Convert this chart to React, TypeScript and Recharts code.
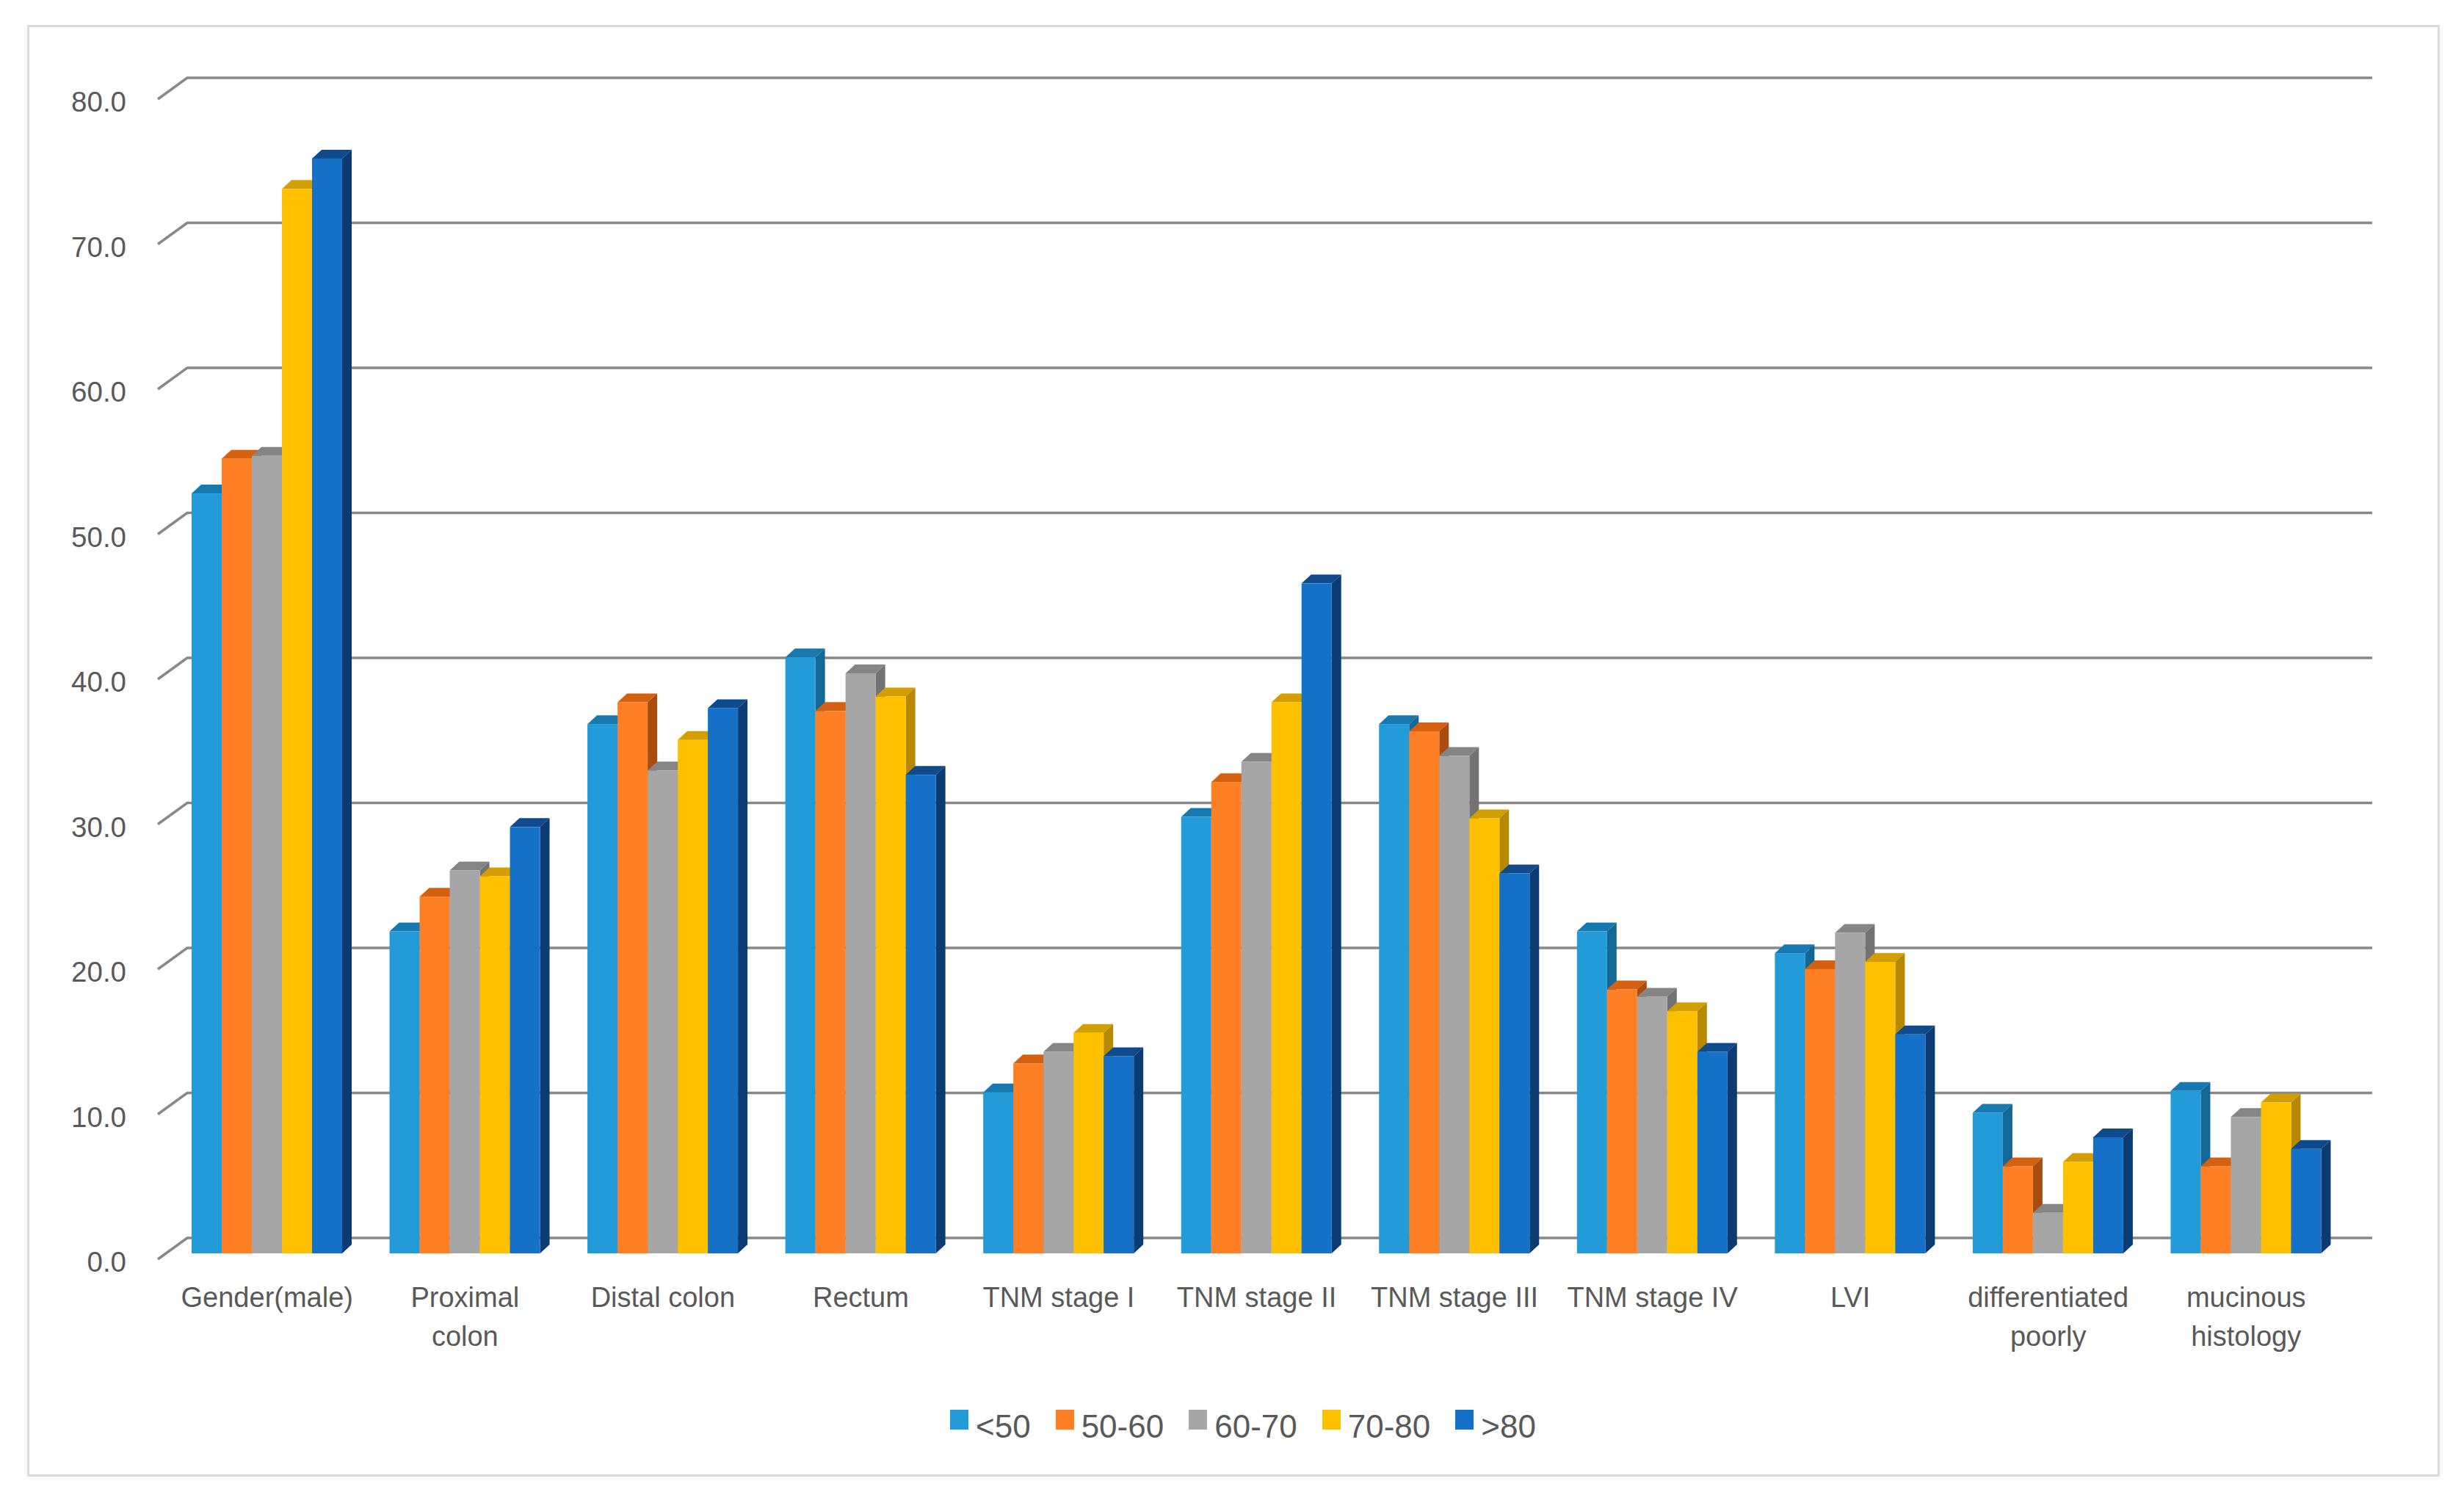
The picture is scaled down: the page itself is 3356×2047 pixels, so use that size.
import { BarChart, Bar, XAxis, YAxis, CartesianGrid, Legend } from "recharts";

const categories = [
  "Gender(male)",
  "Proximal\ncolon",
  "Distal colon",
  "Rectum",
  "TNM stage I",
  "TNM stage II",
  "TNM stage III",
  "TNM stage IV",
  "LVI",
  "differentiated\npoorly",
  "mucinous\nhistology",
];

const under50 = [52.4, 22.2, 36.5, 41.1, 11.1, 30.1, 36.5, 22.2, 20.7, 9.7, 11.2];
const age50to60 = [54.8, 24.6, 38.0, 37.4, 13.1, 32.5, 36.0, 18.2, 19.6, 6.0, 6.0];
const age60to70 = [55.0, 26.4, 33.3, 40.0, 13.9, 33.9, 34.3, 17.7, 22.1, 2.8, 9.4];
const age70to80 = [73.4, 26.0, 35.4, 38.4, 15.2, 38.0, 30.0, 16.7, 20.1, 6.3, 10.4];
const over80 = [75.5, 29.4, 37.6, 33.0, 13.6, 46.2, 26.2, 13.9, 15.1, 8.0, 7.2];

const yTicks = [0, 10, 20, 30, 40, 50, 60, 70, 80];

const series = [
  { key: "a", name: "<50", values: under50, front: "#239bd9", top: "#1879b0", side: "#136896" },
  { key: "b", name: "50-60", values: age50to60, front: "#ff7f24", top: "#d5600f", side: "#a84c10" },
  { key: "c", name: "60-70", values: age60to70, front: "#a6a6a6", top: "#858585", side: "#727272" },
  { key: "d", name: "70-80", values: age70to80, front: "#ffc000", top: "#d29e00", side: "#b78900" },
  { key: "e", name: ">80", values: over80, front: "#1571c8", top: "#0e4a8c", side: "#0b3b70" },
];

const data = categories.map((name, i) => {
  const row: Record<string, string | number> = { name };
  series.forEach((s) => {
    row[s.key] = s.values[i];
  });
  return row;
});

const FONT = '"Liberation Sans", Arial, sans-serif';
const TEXT = "#595959";
const DX = 13;
const DY = 12;

const Bar3D = (props: any) => {
  const { x, y, width, height, fill, topFill, sideFill } = props;
  if (!height) return null;
  const r = x + width;
  return (
    <g>
      <polygon
        points={`${x},${y} ${x + DX},${y - DY} ${r + DX},${y - DY} ${r},${y}`}
        fill={topFill}
      />
      <polygon
        points={`${r},${y} ${r + DX},${y - DY} ${r + DX},${y + height - DY} ${r},${y + height}`}
        fill={sideFill}
      />
      <rect x={x} y={y} width={width} height={height} fill={fill} />
    </g>
  );
};

// back-wall gridline with a slanted lead-in from the front plane
const GridLine3D = (props: any) => {
  const { x1, x2, y1, index } = props;
  return (
    <path
      key={`grid-${index}`}
      d={`M${x1 - 14},${y1 + 8} L${x1 + 26},${y1 - 21} L${x2 + 37},${y1 - 21}`}
      stroke="#888888"
      strokeWidth={3.5}
      fill="none"
    />
  );
};

const XTick = (props: any) => {
  const { x, y, payload } = props;
  const lines = String(payload.value).split("\n");
  return (
    <text x={x} y={y + 73} textAnchor="middle" fill={TEXT} fontSize={38} fontFamily={FONT}>
      {lines.map((line, i) => (
        <tspan key={i} x={x} dy={i === 0 ? 0 : 53}>
          {line}
        </tspan>
      ))}
    </text>
  );
};

const YTick = (props: any) => {
  const { x, y, payload } = props;
  return (
    <text x={x - 57} y={y + 25} textAnchor="end" fill={TEXT} fontSize={38.5} fontFamily={FONT}>
      {Number(payload.value).toFixed(1)}
    </text>
  );
};

const LegendContent = () => (
  <div style={{ display: "flex", alignItems: "center", fontFamily: FONT }}>
    {series.map((s) => (
      <div key={s.key} style={{ display: "flex", alignItems: "center", marginRight: 34 }}>
        <span
          style={{
            display: "inline-block",
            width: 25,
            height: 27,
            background: s.front,
            marginRight: 10,
            transform: "translateY(-10px)",
          }}
        />
        <span style={{ fontSize: 44, lineHeight: "44px", color: TEXT }}>{s.name}</span>
      </div>
    ))}
  </div>
);

export default function App() {
  return (
    <div
      style={{
        position: "absolute",
        left: 0,
        top: 0,
        width: 3356,
        height: 2047,
        background: "#ffffff",
      }}
    >
      <div
        style={{
          position: "absolute",
          left: 37,
          top: 34,
          width: 3286,
          height: 1977,
          border: "3px solid #dadada",
          boxSizing: "border-box",
        }}
      />
      <div style={{ position: "absolute", left: 0, top: 0 }}>
        <BarChart
          width={3356}
          height={2047}
          data={data}
          margin={{ top: 127, right: 162, bottom: 240, left: 129 }}
          barSize={41}
          barGap={0}
        >
          <CartesianGrid horizontal={GridLine3D} vertical={false} />
          <XAxis
            dataKey="name"
            axisLine={false}
            tickLine={false}
            tickSize={0}
            tickMargin={0}
            interval={0}
            tick={<XTick />}
            height={100}
          />
          <YAxis
            domain={[0, 80]}
            ticks={yTicks}
            axisLine={false}
            tickLine={false}
            tickSize={0}
            tickMargin={0}
            width={100}
            tick={<YTick />}
          />
          <Legend
            layout="horizontal"
            verticalAlign="middle"
            align="center"
            content={<LegendContent />}
            wrapperStyle={{ top: 1921, left: 1294, width: "auto" }}
          />
          {series.map((s) => (
            <Bar
              key={s.key}
              dataKey={s.key}
              name={s.name}
              fill={s.front}
              isAnimationActive={false}
              shape={(p: any) => <Bar3D {...p} topFill={s.top} sideFill={s.side} />}
            />
          ))}
        </BarChart>
      </div>
    </div>
  );
}
